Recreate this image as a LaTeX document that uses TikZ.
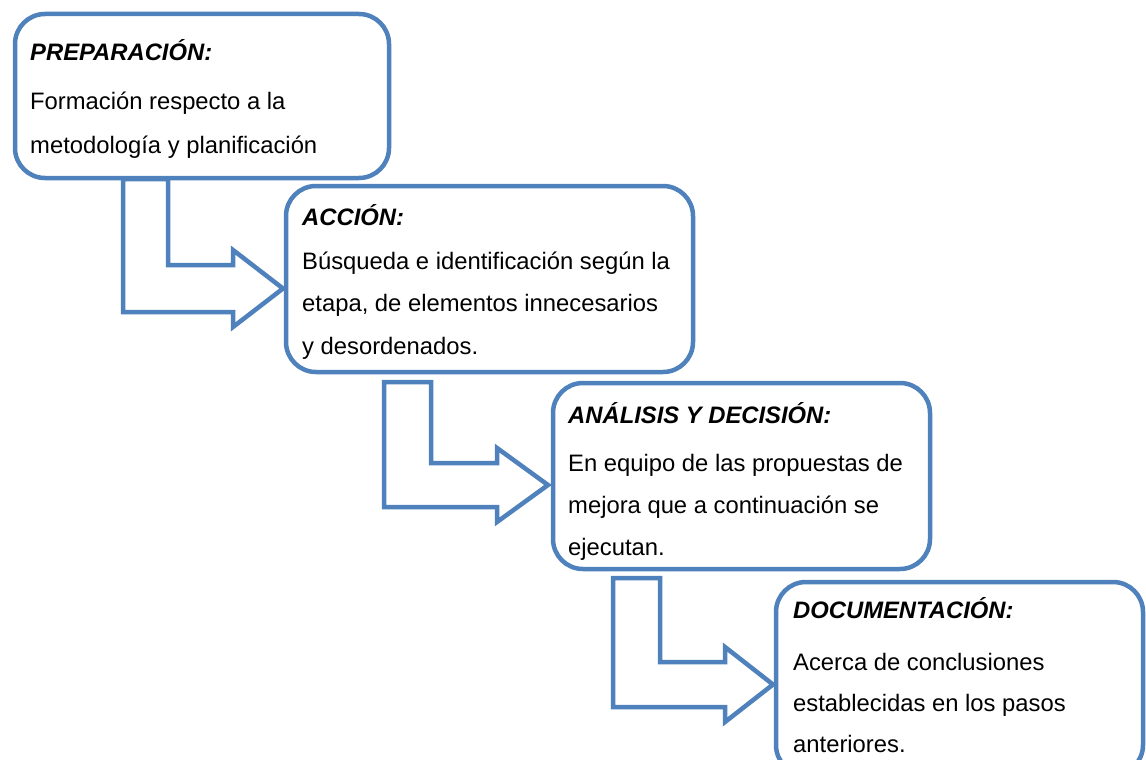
\documentclass[tikz,border=0pt]{standalone}
\usepackage{fontspec}
\setmainfont{Liberation Sans}
\definecolor{boxblue}{HTML}{4F81BD}
\begin{document}
\begin{tikzpicture}[x=1pt,y=-1pt,
  boxline/.style={draw=boxblue,line width=4.5pt,rounded corners=30pt},
  bentarrow/.style={draw=boxblue,fill=white,line width=4.5pt,miter limit=10},
  ttl/.style={anchor=base west,inner sep=0pt,font=\fontsize{23.8}{28}\selectfont\bfseries\itshape},
  txt/.style={anchor=base west,inner sep=0pt,font=\fontsize{23.8}{28}\selectfont}]
\clip (0,0) rectangle (1146,760);
\fill[white] (0,0) rectangle (1146,760);
% bent arrows
\draw[bentarrow] (123,179) -- (168,179) -- (168,265) -- (233,265) -- (233,250)
  -- (283,288.5) -- (233,327) -- (233,312) -- (123,312) -- cycle;
\draw[bentarrow] (384,382) -- (431,382) -- (431,463) -- (497,463) -- (497,448)
  -- (548,485) -- (497,522) -- (497,507) -- (384,507) -- cycle;
\draw[bentarrow] (613,578) -- (660,578) -- (660,662) -- (725,662) -- (725,647)
  -- (773,684.5) -- (725,722) -- (725,707) -- (613,707) -- cycle;
% boxes
\draw[boxline] (15,14) rectangle (389,178);
\draw[boxline] (286,186) rectangle (693,372);
\draw[boxline] (553,383) rectangle (930,569);
\draw[boxline] (776,582) rectangle (1143,775);
% texts
\node[ttl] (t1) at (30,60) {PREPARACIÓN:};
\node[txt] (t1a) at (30,110) {Formación respecto a la};
\node[txt] (t1b) at (30,153) {metodología y planificación};
\node[ttl] (t2) at (302,225) {ACCIÓN:};
\node[txt] (t2a) at (302,269) {Búsqueda e identificación según la};
\node[txt] (t2b) at (302,311) {etapa, de elementos innecesarios};
\node[txt] (t2c) at (302,354) {y desordenados.};
\node[ttl] (t3) at (568,423) {ANÁLISIS Y DECISIÓN:};
\node[txt] (t3a) at (568,471) {En equipo de las propuestas de};
\node[txt] (t3b) at (568,513) {mejora que a continuación se};
\node[txt] (t3c) at (568,555) {ejecutan.};
\node[ttl] (t4) at (793,618) {DOCUMENTACIÓN:};
\node[txt] (t4a) at (793,670) {Acerca de conclusiones};
\node[txt] (t4b) at (793,711) {establecidas en los pasos};
\node[txt] (t4c) at (793,752) {anteriores.};
\end{tikzpicture}
\end{document}
